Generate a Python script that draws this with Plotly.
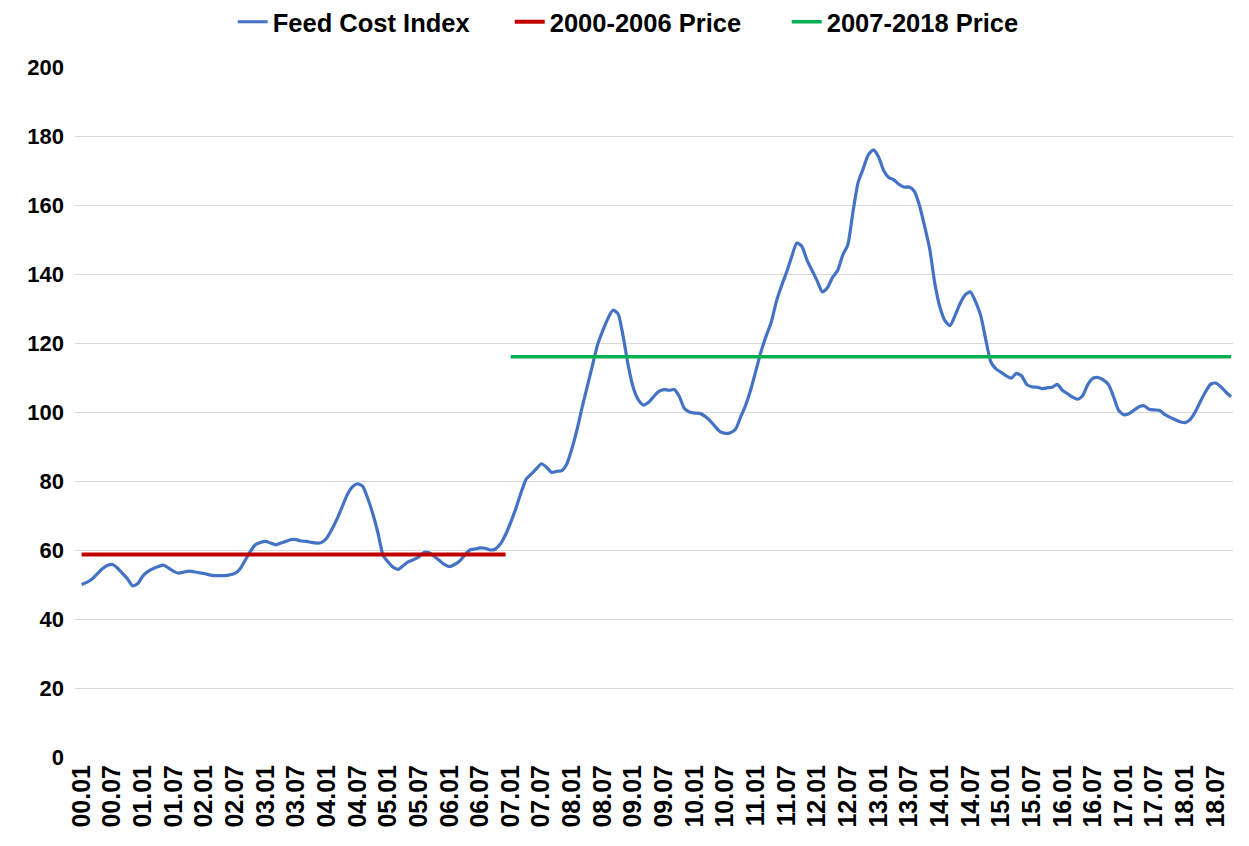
import plotly.graph_objects as go

# Monthly categories 2000.01 .. 2018.10
years = list(range(0, 19))
months = list(range(1, 13))
categories = [f"{y:02d}.{m:02d}" for y in years for m in months][:226]

feed_cost_index = [
    50.0, 50.6, 51.5, 53.0, 54.5, 55.5, 55.8, 54.8, 53.2, 51.6, 49.6, 50.3,   # 2000
    52.5, 53.8, 54.6, 55.2, 55.6, 54.8, 53.8, 53.3, 53.6, 53.9, 53.7, 53.4,   # 2001
    53.2, 52.8, 52.6, 52.6, 52.6, 52.8, 53.2, 54.5, 57.0, 59.5, 61.5, 62.2,   # 2002
    62.5, 62.0, 61.5, 62.0, 62.5, 63.0, 63.0, 62.6, 62.5, 62.2, 62.0, 62.2,   # 2003
    63.5, 66.0, 69.0, 72.5, 76.0, 78.3, 79.2, 78.5, 75.0, 70.5, 65.0, 58.5,   # 2004
    56.5, 55.0, 54.4, 55.5, 56.6, 57.2, 58.0, 59.3, 59.2, 58.2, 57.0, 55.8,   # 2005
    55.2, 55.8, 56.8, 58.5, 60.0, 60.3, 60.6, 60.5, 60.0, 60.3, 61.8, 64.5,   # 2006
    68.0, 72.0, 76.5, 80.5, 82.0, 83.5, 85.0, 84.0, 82.5, 82.8, 83.0, 85.0,   # 2007
    89.5, 95.0, 101.5, 107.5, 113.5, 119.5, 123.5, 127.0, 129.5, 128.5, 122.0, 113.5,  # 2008
    107.0, 103.5, 102.0, 102.8, 104.5, 106.0, 106.5, 106.3, 106.5, 104.5, 101.0, 100.0,  # 2009
    99.7, 99.6, 98.8, 97.5, 95.8, 94.3, 93.8, 94.0, 95.0, 98.5, 102.0, 106.5,   # 2010
    112.0, 117.5, 122.0, 126.0, 132.0, 136.5, 140.5, 145.0, 149.0, 148.0, 144.0, 141.0,  # 2011
    138.0, 134.8, 136.0, 139.0, 141.0, 145.5, 148.5, 158.0, 166.5, 170.5, 174.5, 176.0,  # 2012
    174.0, 170.0, 168.0, 167.3, 166.0, 165.2, 165.2, 164.0, 160.0, 154.0, 147.5, 137.5,  # 2013
    130.5, 126.5, 125.0, 128.0, 131.5, 134.0, 134.8, 132.0, 128.0, 121.0, 114.5, 112.5,  # 2014
    111.5, 110.5, 109.8, 111.2, 110.5, 108.0, 107.3, 107.2, 106.8, 107.0, 107.2, 108.0,  # 2015
    106.3, 105.3, 104.3, 103.7, 104.8, 108.0, 109.8, 110.0, 109.3, 108.0, 104.5, 100.5,  # 2016
    99.2, 99.5, 100.5, 101.5, 101.8, 100.8, 100.6, 100.5, 99.3, 98.5, 97.8, 97.2,   # 2017
    96.9, 97.8, 100.0, 103.0, 105.8, 108.0, 108.4, 107.3, 105.8, 104.4,   # 2018
]

price_2000_2006 = 58.7
price_2007_2018 = 116.0
period1_categories = categories[0:84]
period2_categories = categories[84:226]

tick_labels = categories[::6]

font_family = "Liberation Sans, Arial, sans-serif"

fig = go.Figure()
fig.add_trace(go.Scatter(
    x=categories, y=feed_cost_index, mode="lines", name="Feed Cost Index",
    line=dict(color="#4472C4", width=3.2, shape="spline", smoothing=0.6),
))
fig.add_trace(go.Scatter(
    x=[period1_categories[0], period1_categories[-1]],
    y=[price_2000_2006, price_2000_2006], mode="lines", name="2000-2006 Price",
    line=dict(color="#C00000", width=4),
))
fig.add_trace(go.Scatter(
    x=[period2_categories[0], period2_categories[-1]],
    y=[price_2007_2018, price_2007_2018], mode="lines", name="2007-2018 Price",
    line=dict(color="#00B050", width=3.5),
))

PW, PH = 1158, 690  # plot-area size in px

fig.update_layout(
    width=1241, height=838,
    margin=dict(l=67, r=16, t=59, b=89, autoexpand=False),
    paper_bgcolor="white", plot_bgcolor="white",
    font=dict(family=font_family, color="black"),
    showlegend=True,
    legend=dict(
        orientation="h", x=0.495, xanchor="center", y=1.065, yanchor="middle",
        font=dict(size=25.5, family=font_family, color="black", weight="bold"),
        itemwidth=30, tracegroupgap=0,
        entrywidth=232, entrywidthmode="pixels",
    ),
    xaxis=dict(
        type="category", categoryorder="array", categoryarray=categories,
        range=[-1.3, 225.4], automargin=False,
        tickmode="array", tickvals=tick_labels, ticktext=tick_labels,
        tickangle=-90, showgrid=False, showline=False, zeroline=False,
        ticks="", ticklabelstandoff=2,
        tickfont=dict(size=25, family=font_family, color="black", weight="bold"),
    ),
    yaxis=dict(
        range=[0, 200], tickvals=[0, 20, 40, 60, 80, 100, 120, 140, 160, 180, 200],
        automargin=False,
        showgrid=True, gridcolor="#D9D9D9", gridwidth=1,
        zeroline=False, showline=False, ticks="", ticklabelstandoff=10,
        tickfont=dict(size=22, family=font_family, color="black", weight="bold"),
    ),
)

# faint chart-area edges (left and right)
for xe in (-72 / PW, 1 + 9 / PW):
    fig.add_shape(type="line", xref="paper", yref="paper",
                  x0=xe, x1=xe, y0=-88 / PH, y1=1 + 66 / PH,
                  line=dict(color="#E3E3E3", width=1.5), layer="below")

fig.write_html("out.html")
